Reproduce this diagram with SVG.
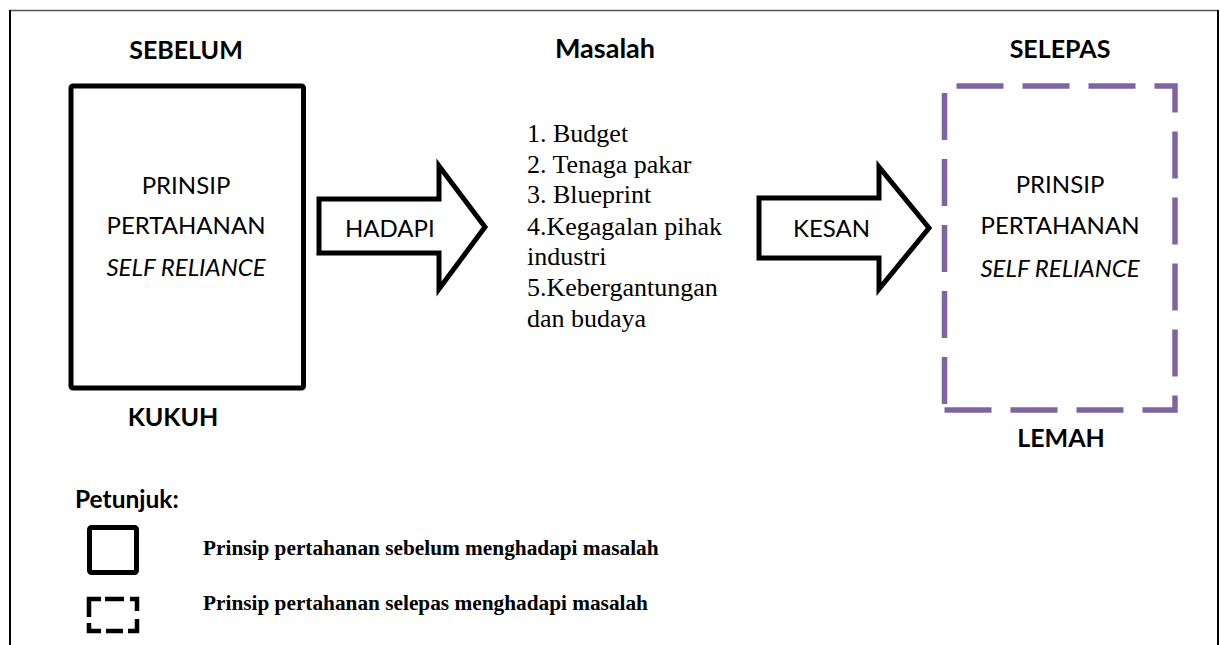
<svg xmlns="http://www.w3.org/2000/svg" width="1220" height="645" viewBox="0 0 1220 645">
<style>
.hd{font-family:Lato,"Open Sans",sans-serif;font-weight:bold;font-size:25px;fill:#000}
.bd{font-family:Lato,"Open Sans",sans-serif;font-size:24px;fill:#000}
.it{font-style:italic}
.ls{font-family:"Liberation Serif","Times New Roman",serif;font-size:26px;fill:#000}
.lg{font-family:"Liberation Serif","Times New Roman",serif;font-weight:bold;font-size:21.3px;fill:#000}
.arrow{fill:#fff;stroke:#000;stroke-width:5;stroke-linejoin:miter}
</style>
<rect width="1220" height="645" fill="#fff"/>
<g id="frame">
<line x1="10" y1="10.5" x2="1218" y2="10.5" stroke="#555" stroke-width="1.5"/>
<line x1="10" y1="10" x2="10" y2="645" stroke="#000" stroke-width="2"/>
<line x1="1218" y1="10" x2="1218" y2="645" stroke="#000" stroke-width="2"/>
</g>
<g id="sebelum">
<text class="hd" x="186" y="59" text-anchor="middle">SEBELUM</text>
<rect x="71" y="86" width="232.5" height="302" fill="none" stroke="#000" stroke-width="5" rx="2"/>
<text class="bd" x="186" y="194" text-anchor="middle">PRINSIP</text>
<text class="bd" x="186" y="234" text-anchor="middle">PERTAHANAN</text>
<text class="bd it" x="186" y="276" text-anchor="middle">SELF RELIANCE</text>
<text class="hd" x="173" y="426" text-anchor="middle">KUKUH</text>
</g>
<g id="masalah">
<text class="hd" x="605" y="58" text-anchor="middle" style="font-size:27px">Masalah</text>
<text class="ls" x="527" y="142">1. Budget</text>
<text class="ls" x="527" y="173">2. Tenaga pakar</text>
<text class="ls" x="527" y="203">3. Blueprint</text>
<text class="ls" x="527" y="235">4.Kegagalan pihak</text>
<text class="ls" x="527" y="265">industri</text>
<text class="ls" x="527" y="296">5.Kebergantungan</text>
<text class="ls" x="527" y="327">dan budaya</text>
</g>
<g id="selepas">
<text class="hd" x="1060" y="58" text-anchor="middle">SELEPAS</text>
<path d="M944.5,410 H1175 V86 H944.5 Z" fill="none" stroke="#8064A2" stroke-width="5.5" stroke-dasharray="47 19"/>
<text class="bd" x="1060" y="193" text-anchor="middle">PRINSIP</text>
<text class="bd" x="1060" y="234" text-anchor="middle">PERTAHANAN</text>
<text class="bd it" x="1060" y="277" text-anchor="middle">SELF RELIANCE</text>
<text class="hd" x="1061" y="447" text-anchor="middle">LEMAH</text>
</g>
<g id="connectors">
<g id="hadapi">
<polygon class="arrow" points="319,199 439,199 439,166 485,227 439,289 439,253 319,253"/>
<text class="bd" x="345" y="237">HADAPI</text>
</g>
<g id="kesan">
<polygon class="arrow" points="759,198 879,198 879,167 929,228 879,289 879,258 759,258"/>
<text class="bd" x="793" y="237">KESAN</text>
</g>
</g>
<g id="legend">
<text class="hd" x="75" y="508" style="font-size:24.5px">Petunjuk:</text>
<rect x="89.5" y="527.5" width="47" height="45" fill="none" stroke="#000" stroke-width="5" rx="2"/>
<text class="lg" x="203" y="555">Prinsip pertahanan sebelum menghadapi masalah</text>
<path d="M89,617 V599 H101 M105,599 H124 M130,599 H137 V611 M137,619 V631 H128 M123,631 H106 M101,631 H89 V623" fill="none" stroke="#000" stroke-width="4.5"/>
<text class="lg" x="203" y="610">Prinsip pertahanan selepas menghadapi masalah</text>
</g>
</svg>
